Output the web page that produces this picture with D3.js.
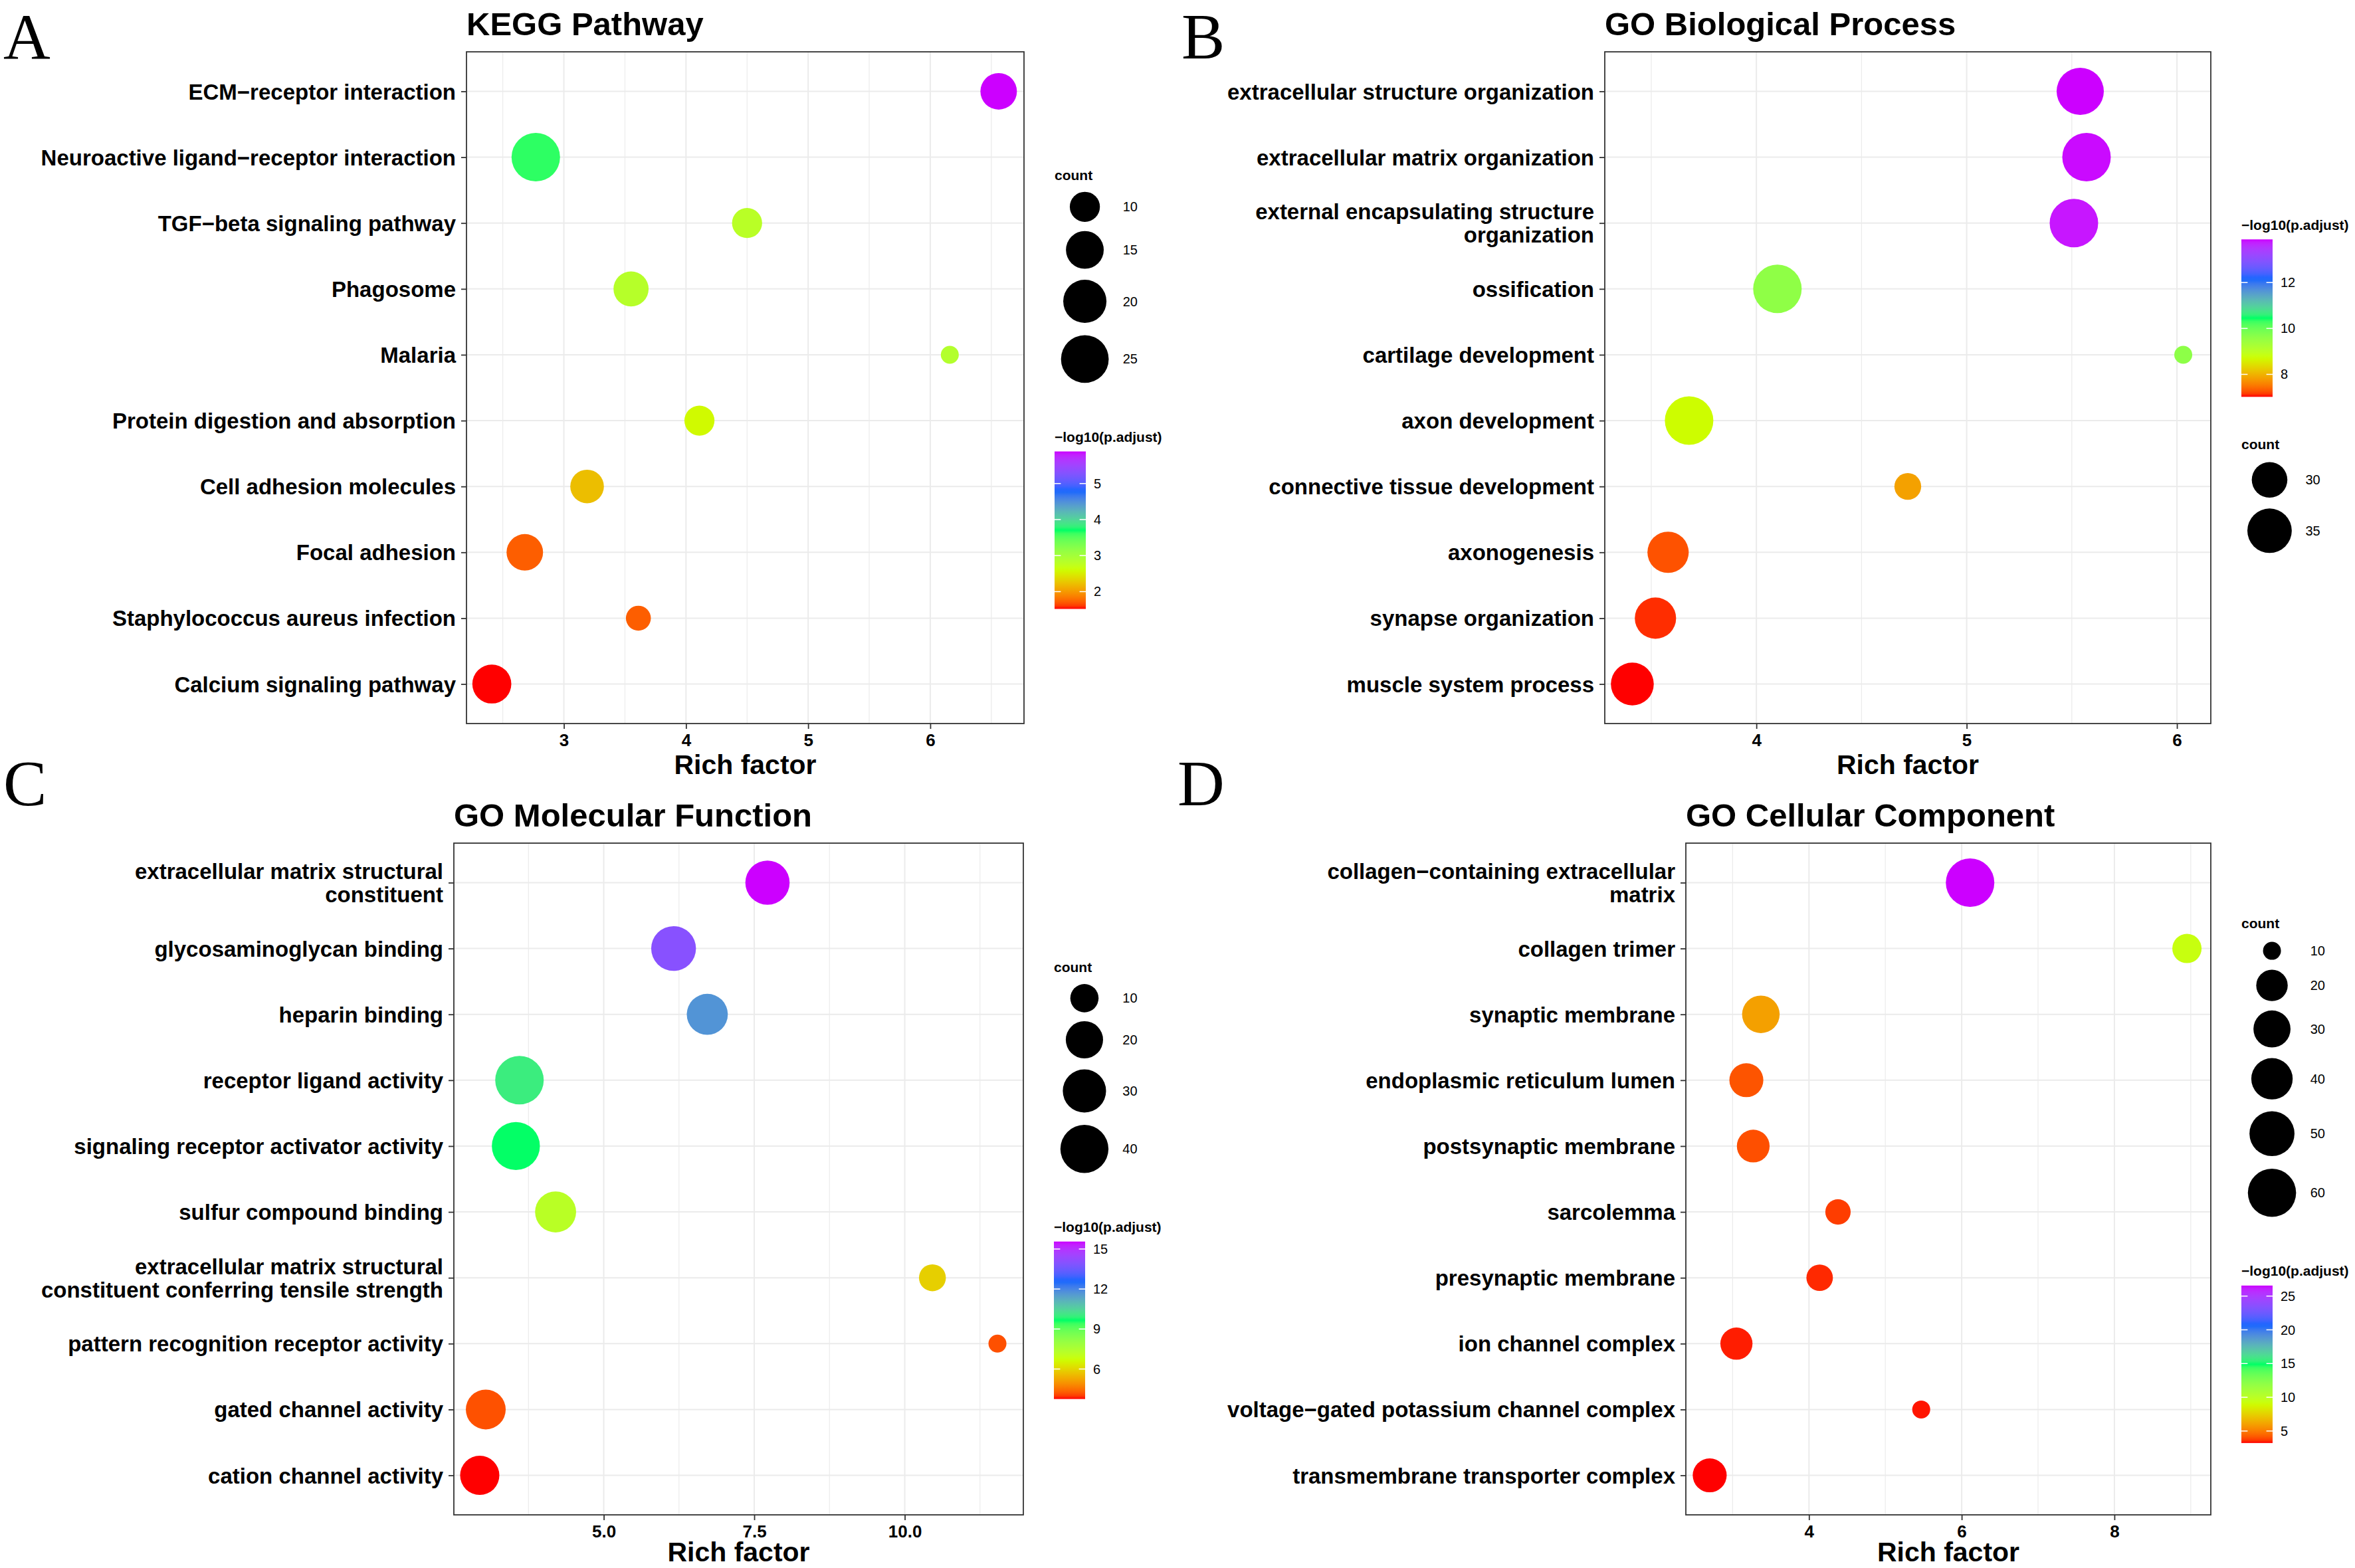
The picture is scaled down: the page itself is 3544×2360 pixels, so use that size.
<!DOCTYPE html>
<html><head><meta charset="utf-8">
<script src="https://cdn.jsdelivr.net/npm/d3@7"></script>
<style>body{margin:0;background:#fff}</style>
</head><body><svg id="chart" width="3544" height="2360" xmlns="http://www.w3.org/2000/svg"></svg>
<script>
// ---------------- DATA ----------------
// Panel A: KEGG Pathway (top to bottom)
const keggTerms = ["ECM\u2212receptor interaction","Neuroactive ligand\u2212receptor interaction","TGF\u2212beta signaling pathway","Phagosome","Malaria","Protein digestion and absorption","Cell adhesion molecules","Focal adhesion","Staphylococcus aureus infection","Calcium signaling pathway"];
const keggRich  = [6.56, 2.77, 4.50, 3.55, 6.16, 4.11, 3.19, 2.68, 3.61, 2.41];
const keggCount = [14, 26, 10, 13, 7, 10, 12, 14, 8, 16];
const keggLogP  = [5.89, 3.65, 2.80, 2.83, 2.86, 2.58, 2.21, 1.72, 1.72, 1.52];
const keggXTicks = [3, 4, 5, 6];
const keggXMinor = [2.5, 3.5, 4.5, 5.5, 6.5];
const keggSizeBreaks = [10, 15, 20, 25];
const keggColorTicks = [2, 3, 4, 5];

// Panel B: GO Biological Process
const bpTerms = ["extracellular structure organization","extracellular matrix organization","external encapsulating structure\norganization","ossification","cartilage development","axon development","connective tissue development","axonogenesis","synapse organization","muscle system process"];
const bpRich  = [5.54, 5.57, 5.51, 4.10, 6.03, 3.68, 4.72, 3.58, 3.52, 3.41];
const bpCount = [37, 38, 38, 38, 26, 38, 27, 33, 33, 34];
const bpLogP  = [13.88, 13.85, 13.80, 9.60, 9.62, 8.72, 7.84, 7.26, 7.10, 7.02];
const bpXTicks = [4, 5, 6];
const bpXMinor = [3.5, 4.5, 5.5];
const bpSizeBreaks = [30, 35];
const bpColorTicks = [8, 10, 12];

// Panel C: GO Molecular Function
const mfTerms = ["extracellular matrix structural\nconstituent","glycosaminoglycan binding","heparin binding","receptor ligand activity","signaling receptor activator activity","sulfur compound binding","extracellular matrix structural\nconstituent conferring tensile strength","pattern recognition receptor activity","gated channel activity","cation channel activity"];
const mfRich  = [7.72, 6.16, 6.72, 3.60, 3.54, 4.20, 10.46, 11.54, 3.04, 2.94];
const mfCount = [32, 33, 26, 41, 40, 26, 9, 6, 24, 23];
const mfLogP  = [15.56, 14.00, 11.70, 10.00, 9.65, 7.20, 5.90, 4.15, 4.16, 3.75];
const mfXTicks = [5, 7.5, 10];
const mfXTickLabels = ["5.0", "7.5", "10.0"];
const mfXMinor = [3.75, 6.25, 8.75, 11.25];
const mfSizeBreaks = [10, 20, 30, 40];
const mfColorTicks = [6, 9, 12, 15];

// Panel D: GO Cellular Component
const ccTerms = ["collagen\u2212containing extracellular\nmatrix","collagen trimer","synaptic membrane","endoplasmic reticulum lumen","postsynaptic membrane","sarcolemma","presynaptic membrane","ion channel complex","voltage\u2212gated potassium channel complex","transmembrane transporter complex"];
const ccRich  = [6.11, 8.95, 3.37, 3.18, 3.27, 4.38, 4.14, 3.05, 5.47, 2.70];
const ccCount = [61, 17, 31, 24, 22, 13, 14, 21, 10, 24];
const ccLogP  = [26.56, 9.30, 6.00, 4.09, 3.99, 3.69, 3.45, 3.35, 3.30, 3.22];
const ccXTicks = [4, 6, 8];
const ccXMinor = [3, 5, 7, 9];
const ccSizeBreaks = [10, 20, 30, 40, 50, 60];
const ccColorTicks = [5, 10, 15, 20, 25];

const rainbow5 = ["#FF0000", "#CCFF00", "#00FF66", "#0066FF", "#CC00FF"];

// ---------------- DRAWING ----------------
const svg = d3.select('#chart');
svg.append('rect').attr('width', 3544).attr('height', 2360).attr('fill', '#fff');
const defs = svg.append('defs');
const FONT = "'Liberation Sans', Arial, Helvetica, sans-serif";
const SERIF = "'Liberation Serif', 'Times New Roman', serif";
const D_MIN = 27, D_MAX = 73;

const panels = [
  {id: 'A', letterPos: [5, 88], title: 'KEGG Pathway', box: {left: 702, right: 1541, top: 78, bottom: 1089}, xTitleOff: 76,
   terms: keggTerms, rich: keggRich, count: keggCount, logp: keggLogP, xTicks: keggXTicks, xLabels: keggXTicks.map(String),
   xMinor: keggXMinor, sizeBreaks: keggSizeBreaks, colorTicks: keggColorTicks, order: ['size', 'color']},
  {id: 'B', letterPos: [1778, 88], title: 'GO Biological Process', box: {left: 2415, right: 3327, top: 78, bottom: 1089}, xTitleOff: 76,
   terms: bpTerms, rich: bpRich, count: bpCount, logp: bpLogP, xTicks: bpXTicks, xLabels: bpXTicks.map(String),
   xMinor: bpXMinor, sizeBreaks: bpSizeBreaks, colorTicks: bpColorTicks, order: ['color', 'size']},
  {id: 'C', letterPos: [5, 1212], title: 'GO Molecular Function', box: {left: 683, right: 1540, top: 1269, bottom: 2280}, xTitleOff: 70,
   terms: mfTerms, rich: mfRich, count: mfCount, logp: mfLogP, xTicks: mfXTicks, xLabels: mfXTickLabels,
   xMinor: mfXMinor, sizeBreaks: mfSizeBreaks, colorTicks: mfColorTicks, order: ['size', 'color']},
  {id: 'D', letterPos: [1772, 1212], title: 'GO Cellular Component', box: {left: 2537, right: 3327, top: 1269, bottom: 2280}, xTitleOff: 70,
   terms: ccTerms, rich: ccRich, count: ccCount, logp: ccLogP, xTicks: ccXTicks, xLabels: ccXTicks.map(String),
   xMinor: ccXMinor, sizeBreaks: ccSizeBreaks, colorTicks: ccColorTicks, order: ['size', 'color']}
];

panels.forEach(cfg => {
  const g = svg.append('g');
  const {left, right, top, bottom} = cfg.box;
  const ext = d3.extent(cfg.rich);
  const pad = (ext[1] - ext[0]) * 0.05;
  const x = d3.scaleLinear().domain([ext[0] - pad, ext[1] + pad]).range([left, right]);
  const y = d3.scalePoint().domain(cfg.terms).range([top, bottom]).padding(0.6);
  const cExt = d3.extent(cfg.logp);
  const color = d3.scaleLinear()
    .domain(d3.range(5).map(i => cExt[0] + (cExt[1] - cExt[0]) * i / 4))
    .range(rainbow5).interpolate(d3.interpolateLab).clamp(true);
  const nExt = d3.extent(cfg.count);
  const tN = d3.scaleLinear().domain(nExt).range([0, 1]).clamp(true);
  const dia = d3.scaleLinear().domain([0, 1]).range([D_MIN, D_MAX]);
  const diam = v => dia(Math.sqrt(tN(v)));

  // panel letter
  svg.append('text').attr('x', cfg.letterPos[0]).attr('y', cfg.letterPos[1])
    .attr('font-family', SERIF).attr('font-size', 98).attr('fill', '#000').text(cfg.id);
  // title
  g.append('text').attr('x', left).attr('y', top - 25)
    .attr('font-family', FONT).attr('font-weight', 'bold').attr('font-size', 49).attr('fill', '#000').text(cfg.title);

  // panel background
  g.append('rect').attr('x', left).attr('y', top).attr('width', right - left).attr('height', bottom - top).attr('fill', '#fff');
  // minor grid
  g.selectAll('.minor').data(cfg.xMinor.filter(v => x(v) > left && x(v) < right)).enter().append('line')
    .attr('x1', d => x(d)).attr('x2', d => x(d)).attr('y1', top).attr('y2', bottom)
    .attr('stroke', '#EBEBEB').attr('stroke-width', 1.2);
  // major grid vertical
  g.selectAll('.majx').data(cfg.xTicks).enter().append('line')
    .attr('x1', d => x(d)).attr('x2', d => x(d)).attr('y1', top).attr('y2', bottom)
    .attr('stroke', '#EBEBEB').attr('stroke-width', 2);
  // major grid horizontal
  g.selectAll('.majy').data(cfg.terms).enter().append('line')
    .attr('x1', left).attr('x2', right).attr('y1', d => y(d)).attr('y2', d => y(d))
    .attr('stroke', '#EBEBEB').attr('stroke-width', 2);

  // points
  g.selectAll('.pt').data(cfg.terms).enter().append('circle')
    .attr('cx', (d, i) => x(cfg.rich[i])).attr('cy', d => y(d))
    .attr('r', (d, i) => diam(cfg.count[i]) / 2)
    .attr('fill', (d, i) => color(cfg.logp[i]));

  // border
  g.append('rect').attr('x', left).attr('y', top).attr('width', right - left).attr('height', bottom - top)
    .attr('fill', 'none').attr('stroke', '#333333').attr('stroke-width', 1.8);

  // x axis
  const xAxis = d3.axisBottom(x).tickValues(cfg.xTicks).tickFormat((d, i) => cfg.xLabels[i]).tickSize(8).tickPadding(7.5);
  const ax = g.append('g').attr('transform', `translate(0,${bottom})`).call(xAxis);
  ax.select('.domain').remove();
  ax.selectAll('line').attr('stroke', '#333').attr('stroke-width', 1.8);
  ax.selectAll('text').attr('font-family', FONT).attr('font-weight', 'bold').attr('font-size', 26).attr('fill', '#000');

  // y axis
  const yAxis = d3.axisLeft(y).tickSize(8).tickPadding(8);
  const ay = g.append('g').attr('transform', `translate(${left},0)`).call(yAxis);
  ay.select('.domain').remove();
  ay.selectAll('line').attr('stroke', '#333').attr('stroke-width', 1.8);
  ay.selectAll('text').each(function(d) {
    const lines = d.split('\n');
    const sel = d3.select(this);
    sel.text(null).attr('dy', null)
      .attr('font-family', FONT).attr('font-weight', 'bold').attr('font-size', 33).attr('fill', '#000');
    lines.forEach((ln, i) => {
      sel.append('tspan').attr('x', -16).attr('y', (i - (lines.length - 1) / 2) * 35.4).attr('dy', '0.35em').text(ln);
    });
  });

  // axis title
  g.append('text').attr('x', (left + right) / 2).attr('y', bottom + cfg.xTitleOff).attr('text-anchor', 'middle')
    .attr('font-family', FONT).attr('font-weight', 'bold').attr('font-size', 41).attr('fill', '#000').text('Rich factor');

  // ---- legends ----
  const x0 = right + 46;
  const kh = cfg.sizeBreaks.map(v => Math.max(44, 1.27 * diam(v)));
  const keyW = d3.max(kh);
  const sizeH = 27 + d3.sum(kh);
  const colorH = 29.5 + 237;
  const GAP = 64;
  const total = sizeH + colorH + GAP;
  let cursor = (top + bottom) / 2 + 2.5 - total / 2;

  const drawSize = (bt) => {
    const lg = g.append('g');
    lg.append('text').attr('x', x0).attr('y', bt + 15).attr('font-family', FONT).attr('font-weight', 'bold')
      .attr('font-size', 21).attr('fill', '#000').text('count');
    let cy = bt + 27;
    cfg.sizeBreaks.forEach((v, i) => {
      const c = cy + kh[i] / 2;
      lg.append('circle').attr('cx', x0 + keyW / 2).attr('cy', c).attr('r', diam(v) / 2).attr('fill', '#000');
      lg.append('text').attr('x', x0 + keyW + 11.5).attr('y', c).attr('dy', '0.35em')
        .attr('font-family', FONT).attr('font-size', 20).attr('fill', '#000').text(v);
      cy += kh[i];
    });
  };
  const drawColor = (bt) => {
    const lg = g.append('g');
    lg.append('text').attr('x', x0).attr('y', bt + 15).attr('font-family', FONT).attr('font-weight', 'bold')
      .attr('font-size', 21).attr('fill', '#000').text('\u2212log10(p.adjust)');
    const barTop = bt + 29.5, barH = 237, barW = 47;
    const gid = 'grad' + cfg.id;
    const grad = defs.append('linearGradient').attr('id', gid).attr('x1', 0).attr('x2', 0).attr('y1', 1).attr('y2', 0);
    d3.range(0, 1.0001, 0.02).forEach(p => {
      grad.append('stop').attr('offset', p).attr('stop-color', color(cExt[0] + p * (cExt[1] - cExt[0])));
    });
    lg.append('rect').attr('x', x0).attr('y', barTop).attr('width', barW).attr('height', barH).attr('fill', `url(#${gid})`);
    const cb = d3.scaleLinear().domain(cExt).range([barTop + barH, barTop]);
    cfg.colorTicks.forEach(v => {
      const yy = cb(v);
      lg.append('line').attr('x1', x0).attr('x2', x0 + 9.4).attr('y1', yy).attr('y2', yy).attr('stroke', '#fff').attr('stroke-width', 1.5);
      lg.append('line').attr('x1', x0 + barW - 9.4).attr('x2', x0 + barW).attr('y1', yy).attr('y2', yy).attr('stroke', '#fff').attr('stroke-width', 1.5);
      lg.append('text').attr('x', x0 + barW + 12).attr('y', yy).attr('dy', '0.35em')
        .attr('font-family', FONT).attr('font-size', 20).attr('fill', '#000').text(v);
    });
  };
  cfg.order.forEach(kind => {
    if (kind === 'size') { drawSize(cursor); cursor += sizeH + GAP; }
    else { drawColor(cursor); cursor += colorH + GAP; }
  });
});
</script></body></html>
